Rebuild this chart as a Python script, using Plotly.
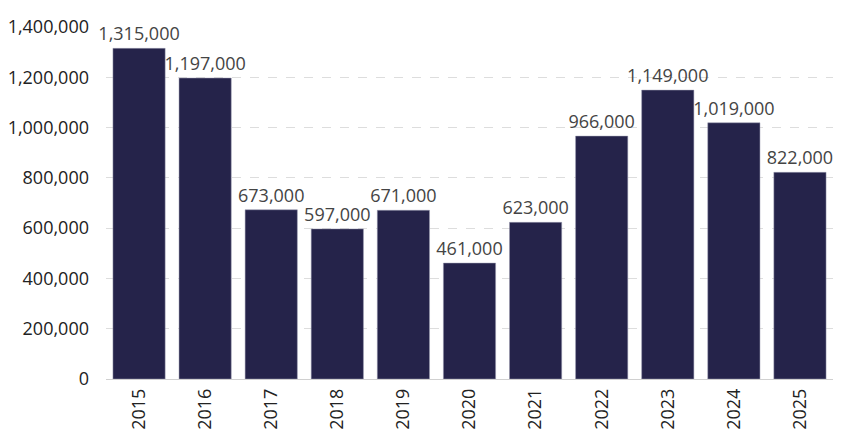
import plotly.graph_objects as go

years = ["2015", "2016", "2017", "2018", "2019", "2020", "2021", "2022", "2023", "2024", "2025"]
values = [1315000, 1197000, 673000, 597000, 671000, 461000, 623000, 966000, 1149000, 1019000, 822000]
labels = [f"{v:,}" for v in values]

fig = go.Figure(go.Bar(
    x=years, y=values, text=labels, textposition="outside",
    textfont=dict(family="Open Sans", size=18, color="#444444"),
    marker=dict(color="#25234A", line=dict(color="#9a9ab0", width=0.5)),
    cliponaxis=False,
))
fig.update_layout(
    width=850, height=447,
    margin=dict(l=106, r=17, t=27, b=68),
    plot_bgcolor="white", paper_bgcolor="white",
    bargap=0.21, showlegend=False,
    font=dict(family="Open Sans", size=18, color="#222222"),
    uniformtext=dict(minsize=18, mode="show"),
)
fig.update_yaxes(range=[0, 1400000], tickvals=list(range(0, 1400001, 200000)),
                 tickformat=",", showgrid=True, gridcolor="#dddddd", griddash="dash",
                 zeroline=True, zerolinecolor="#d0d0d0", zerolinewidth=1,
                 ticks="", ticklen=0, ticklabelstandoff=16, automargin=False)
fig.update_xaxes(tickangle=-90, showline=False, ticks="", ticklabelstandoff=5, automargin=False)
fig.write_html("out.html")
